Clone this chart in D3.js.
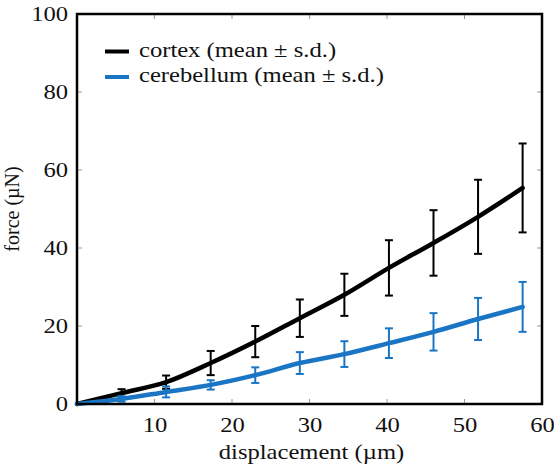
<!DOCTYPE html>
<html><head><meta charset="utf-8">
<script src="https://cdn.jsdelivr.net/npm/d3@7"></script>
<style>body{margin:0;background:#fff}svg{display:block}text{font-family:"Liberation Serif","Times New Roman",serif;fill:#111}</style>
</head><body>
<svg id="c" width="554" height="469"></svg>
<script>
const displacement = [0, 5.75, 11.5, 17.25, 23.0, 28.75, 34.5, 40.25, 46.0, 51.75, 57.5];
const cortexMean   = [0, 2.8, 5.6, 10.5, 16.0, 22.0, 28.0, 34.9, 41.3, 48.0, 55.4];
const cortexSD     = [0, 1.0, 1.7, 3.1, 4.0, 4.8, 5.4, 7.1, 8.4, 9.5, 11.4];
const cerebMean    = [0, 1.3, 3.1, 4.9, 7.4, 10.5, 12.8, 15.6, 18.5, 21.8, 24.9];
const cerebSD      = [0, 0.7, 1.4, 1.2, 2.0, 2.8, 3.3, 3.8, 4.8, 5.4, 6.4];
const xTicks = [10, 20, 30, 40, 50, 60];
const yTicks = [0, 20, 40, 60, 80, 100];
const seriesNames = ["cortex (mean \u00b1 s.d.)", "cerebellum (mean \u00b1 s.d.)"];
const seriesColors = ["#000000", "#1a76c4"];

const FONT = "'Liberation Serif','Times New Roman',serif";
const FS = 20.5, SX = 1.2;
const svg = d3.select("#c");
const L = 77, R = 542, T = 14, B = 404;
const x = d3.scaleLinear().domain([0, 60]).range([L, R]);
const y = d3.scaleLinear().domain([0, 100]).range([B, T]);

// inner ticks
const tickG = svg.append("g").attr("stroke", "#999").attr("stroke-width", 1);
xTicks.filter(t => t < 60).forEach(t => {
  tickG.append("line").attr("x1", x(t)).attr("x2", x(t)).attr("y1", B).attr("y2", B - 5);
  tickG.append("line").attr("x1", x(t)).attr("x2", x(t)).attr("y1", T).attr("y2", T + 5);
});
yTicks.filter(t => t > 0 && t < 100).forEach(t => {
  tickG.append("line").attr("x1", L).attr("x2", L + 5).attr("y1", y(t)).attr("y2", y(t));
  tickG.append("line").attr("x1", R).attr("x2", R - 5).attr("y1", y(t)).attr("y2", y(t));
});

function styleText(sel) {
  sel.style("font-family", FONT).style("font-size", FS + "px").attr("fill", "#111");
}

// axis labels via d3 axes
const xAxis = svg.append("g").attr("transform", `translate(0,${B})`)
  .call(d3.axisBottom(x).tickValues(xTicks).tickSize(0).tickPadding(0));
xAxis.select(".domain").remove();
xAxis.selectAll("text").call(styleText).attr("y", null).attr("dy", null)
  .attr("transform", `translate(0,28) scale(${SX},1)`);
const yAxis = svg.append("g").attr("transform", `translate(${L},0)`)
  .call(d3.axisLeft(y).tickValues(yTicks).tickSize(0).tickPadding(0));
yAxis.select(".domain").remove();
yAxis.selectAll("text").call(styleText).attr("x", null).attr("dy", "0.33em")
  .attr("transform", `translate(-9,0) scale(${SX},1)`);

svg.append("text").attr("transform", `translate(${(L + R) / 2 + 2},459) scale(${SX},1)`).attr("text-anchor", "middle")
  .call(styleText).text("displacement (\u00b5m)");
svg.append("text").attr("transform", `translate(19,${(T + B) / 2}) rotate(-90)`).attr("text-anchor", "middle")
  .call(styleText).style("font-size", "20px").text("force (\u00b5N)");

const line = d3.line().x(d => x(d[0])).y(d => y(d[1])).curve(d3.curveMonotoneX);
const series = [[cortexMean, cortexSD], [cerebMean, cerebSD]];

series.forEach(([m, sd], i) => {
  const g = svg.append("g").attr("stroke", seriesColors[i]).attr("fill", "none");
  g.append("path").datum(displacement.map((d, k) => [d, m[k]]))
    .attr("d", line).attr("stroke-width", 4.5).attr("stroke-linecap", "round");
  displacement.forEach((d, k) => {
    if (k === 0) return;
    const cx = x(d), y1 = y(m[k] + sd[k]), y2 = y(m[k] - sd[k]);
    g.append("line").attr("x1", cx).attr("x2", cx).attr("y1", y1).attr("y2", y2).attr("stroke-width", 2);
    g.append("line").attr("x1", cx - 4).attr("x2", cx + 4).attr("y1", y1).attr("y2", y1).attr("stroke-width", 2);
    g.append("line").attr("x1", cx - 4).attr("x2", cx + 4).attr("y1", y2).attr("y2", y2).attr("stroke-width", 2);
  });
});

// frame
svg.append("rect").attr("x", L).attr("y", T).attr("width", R - L).attr("height", B - T)
  .attr("fill", "none").attr("stroke", "#000").attr("stroke-width", 2.5);

// legend
seriesNames.forEach((n, i) => {
  const ly = 51.5 + i * 25.5;
  svg.append("line").attr("x1", 105).attr("x2", 129).attr("y1", ly).attr("y2", ly)
    .attr("stroke", seriesColors[i]).attr("stroke-width", 4);
  svg.append("text").attr("transform", `translate(139,${ly + 5}) scale(${SX},1)`)
    .call(styleText).text(n);
});
</script>
</body></html>
